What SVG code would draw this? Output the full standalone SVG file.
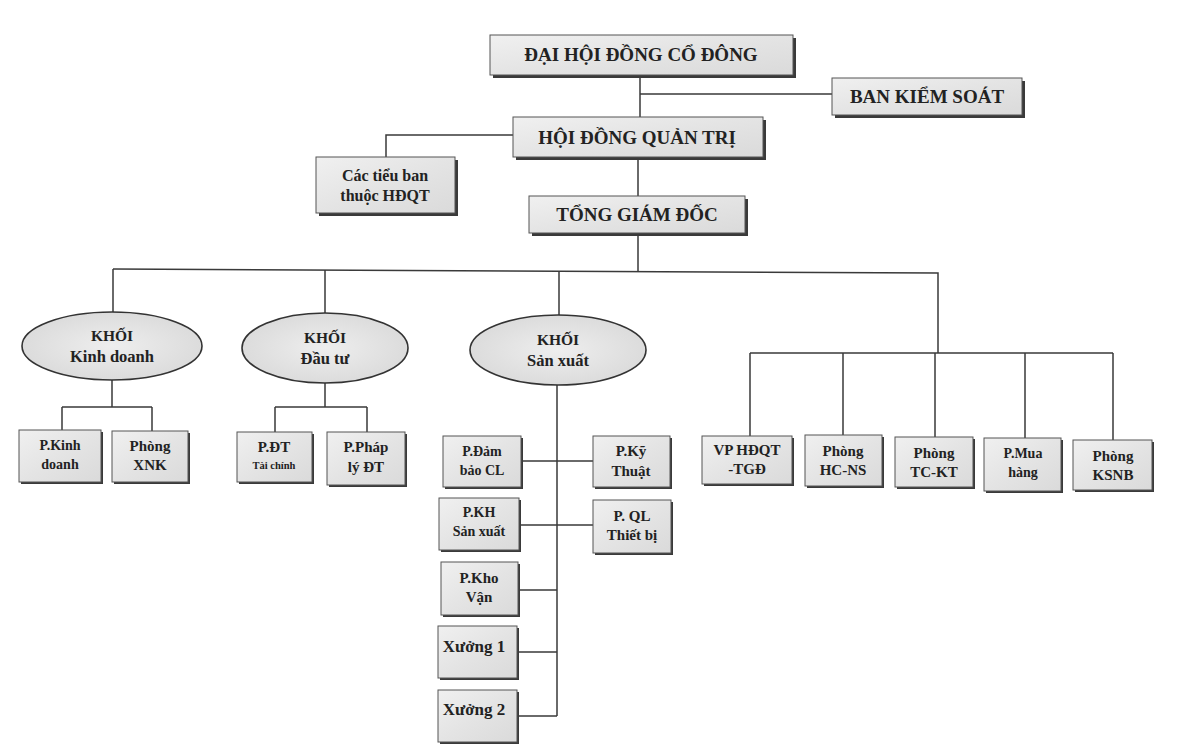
<svg xmlns="http://www.w3.org/2000/svg" width="1181" height="751" viewBox="0 0 1181 751">
<defs>
<linearGradient id="g" x1="0" y1="0" x2="1" y2="1">
<stop offset="0" stop-color="#f0f0f0"/>
<stop offset="0.5" stop-color="#e4e4e4"/>
<stop offset="1" stop-color="#dadada"/>
</linearGradient>
<radialGradient id="ge" cx="0.5" cy="0.5" r="0.6">
<stop offset="0" stop-color="#eeeeee"/>
<stop offset="1" stop-color="#d8d8d8"/>
</radialGradient>
</defs>
<style>
.sh{fill:#3a3a3a}
.bx{fill:url(#g);stroke:#555;stroke-width:1}
.el{fill:url(#ge);stroke:#333;stroke-width:1.6}
.ln{fill:none;stroke:#3a3a3a;stroke-width:1.5}
text{font-family:"Liberation Serif","Times New Roman",serif;font-weight:bold;fill:#222;text-anchor:middle}
.t1{font-size:19px}
.t2{font-size:15.5px}
.t2b{font-size:16.5px}
.t3{font-size:15px}
.t3s{font-size:14px}
.t4{font-size:10.5px}
.t5{font-size:17px}
.t6{font-size:16px}
</style>
<rect width="1181" height="751" fill="#ffffff"/>

<g id="connectors">
<path class="ln" d="M640,75 V117 M640,94 H832"/>
<path class="ln" d="M513,135 H386 V157"/>
<path class="ln" d="M638,157 V196 M638,233 V271"/>
<path class="ln" d="M113,269 L938,273 V353"/>
<path class="ln" d="M113,269 V312 M325,270 V313 M559,271 V315"/>
<path class="ln" d="M750,353 H1113 M750,353 V436 M843,353 V435 M935,353 V437 M1025,353 V438 M1113,353 V440"/>
<path class="ln" d="M112,380 V407 M62,407 H152 M62,407 V430 M152,407 V431"/>
<path class="ln" d="M325,383 V407 M275,407 H367 M275,407 V432 M367,407 V432"/>
<path class="ln" d="M557,385 V716 M521,461 H593 M519,525 H593 M518,590 H557 M517,652 H557 M517,716 H557"/>
</g>

<g id="n-dhdcd"><rect class="sh" x="493" y="38" width="303" height="40"/><rect class="bx" x="490" y="35" width="303" height="40"/><text class="t1" x="641" y="61">ĐẠI HỘI ĐỒNG CỔ ĐÔNG</text></g>
<g id="n-bks"><rect class="sh" x="835" y="81" width="190" height="37"/><rect class="bx" x="832" y="78" width="190" height="37"/><text class="t1" x="927" y="103">BAN KIỂM SOÁT</text></g>
<g id="n-hdqt"><rect class="sh" x="516" y="120" width="250" height="40"/><rect class="bx" x="513" y="117" width="250" height="40"/><text class="t1" x="637" y="144">HỘI ĐỒNG QUẢN TRỊ</text></g>
<g id="n-ctb"><rect class="sh" x="319" y="160" width="139" height="56"/><rect class="bx" x="316" y="157" width="139" height="56"/><text class="t6" x="385" y="181">Các tiểu ban</text><text class="t6" x="385" y="201">thuộc HĐQT</text></g>
<g id="n-tgd"><rect class="sh" x="532" y="199" width="216" height="37"/><rect class="bx" x="529" y="196" width="216" height="37"/><text class="t1" x="637" y="221">TỔNG GIÁM ĐỐC</text></g>

<g id="n-kkd"><ellipse class="el" cx="112" cy="346" rx="90" ry="34"/><text class="t2" x="112" y="341">KHỐI</text><text class="t2b" x="112" y="362">Kinh doanh</text></g>
<g id="n-kdt"><ellipse class="el" cx="325" cy="348" rx="83" ry="35"/><text class="t2" x="325" y="343">KHỐI</text><text class="t2b" x="325" y="364">Đầu tư</text></g>
<g id="n-ksx"><ellipse class="el" cx="558" cy="350" rx="88" ry="35"/><text class="t2" x="558" y="345">KHỐI</text><text class="t2b" x="558" y="366">Sản xuất</text></g>

<g id="n-pkd"><rect class="sh" x="21" y="432" width="82" height="52"/><rect class="bx" x="19" y="430" width="82" height="52"/><text class="t3s" x="60" y="450">P.Kinh</text><text class="t3s" x="60" y="469">doanh</text></g>
<g id="n-xnk"><rect class="sh" x="114" y="433" width="76" height="51"/><rect class="bx" x="112" y="431" width="76" height="51"/><text class="t3" x="150" y="451">Phòng</text><text class="t3" x="150" y="470">XNK</text></g>
<g id="n-pdt"><rect class="sh" x="239" y="434" width="75" height="50"/><rect class="bx" x="237" y="432" width="75" height="50"/><text class="t3" x="274" y="452">P.ĐT</text><text class="t4" x="274" y="469">Tài chính</text></g>
<g id="n-ppl"><rect class="sh" x="329" y="434" width="78" height="53"/><rect class="bx" x="327" y="432" width="78" height="53"/><text class="t3" x="366" y="452">P.Pháp</text><text class="t3" x="366" y="472">lý ĐT</text></g>

<g id="n-pdb"><rect class="sh" x="445" y="438" width="78" height="51"/><rect class="bx" x="443" y="436" width="78" height="51"/><text class="t3s" x="482" y="456">P.Đảm</text><text class="t3s" x="482" y="475">bảo CL</text></g>
<g id="n-pkt"><rect class="sh" x="595" y="438" width="77" height="51"/><rect class="bx" x="593" y="436" width="77" height="51"/><text class="t3" x="631" y="456">P.Kỹ</text><text class="t3" x="631" y="476">Thuật</text></g>
<g id="n-pkh"><rect class="sh" x="441" y="500" width="80" height="52"/><rect class="bx" x="439" y="498" width="80" height="52"/><text class="t3s" x="479" y="517">P.KH</text><text class="t3s" x="479" y="536">Sản xuất</text></g>
<g id="n-pql"><rect class="sh" x="595" y="502" width="78" height="53"/><rect class="bx" x="593" y="500" width="78" height="53"/><text class="t3" x="632" y="521">P. QL</text><text class="t3" x="632" y="540">Thiết bị</text></g>
<g id="n-pkv"><rect class="sh" x="443" y="564" width="77" height="53"/><rect class="bx" x="441" y="562" width="77" height="53"/><text class="t3" x="479" y="583">P.Kho</text><text class="t3" x="479" y="602">Vận</text></g>
<g id="n-x1"><rect class="sh" x="440" y="628" width="79" height="52"/><rect class="bx" x="438" y="626" width="79" height="52"/><text class="t5" x="474" y="652">Xưởng 1</text></g>
<g id="n-x2"><rect class="sh" x="440" y="692" width="79" height="52"/><rect class="bx" x="438" y="690" width="79" height="52"/><text class="t5" x="474" y="715">Xưởng 2</text></g>

<g id="n-vp"><rect class="sh" x="704" y="438" width="90" height="48"/><rect class="bx" x="702" y="436" width="90" height="48"/><text class="t3" x="747" y="455">VP HĐQT</text><text class="t3" x="747" y="474">-TGĐ</text></g>
<g id="n-hcns"><rect class="sh" x="807" y="437" width="77" height="51"/><rect class="bx" x="805" y="435" width="77" height="51"/><text class="t3" x="843" y="456">Phòng</text><text class="t3" x="843" y="475">HC-NS</text></g>
<g id="n-tckt"><rect class="sh" x="897" y="439" width="78" height="50"/><rect class="bx" x="895" y="437" width="78" height="50"/><text class="t3" x="934" y="458">Phòng</text><text class="t3" x="934" y="477">TC-KT</text></g>
<g id="n-mua"><rect class="sh" x="986" y="440" width="77" height="53"/><rect class="bx" x="984" y="438" width="77" height="53"/><text class="t3s" x="1023" y="458">P.Mua</text><text class="t3s" x="1023" y="477">hàng</text></g>
<g id="n-ksnb"><rect class="sh" x="1075" y="442" width="79" height="50"/><rect class="bx" x="1073" y="440" width="79" height="50"/><text class="t3" x="1113" y="461">Phòng</text><text class="t3" x="1113" y="480">KSNB</text></g>
</svg>
